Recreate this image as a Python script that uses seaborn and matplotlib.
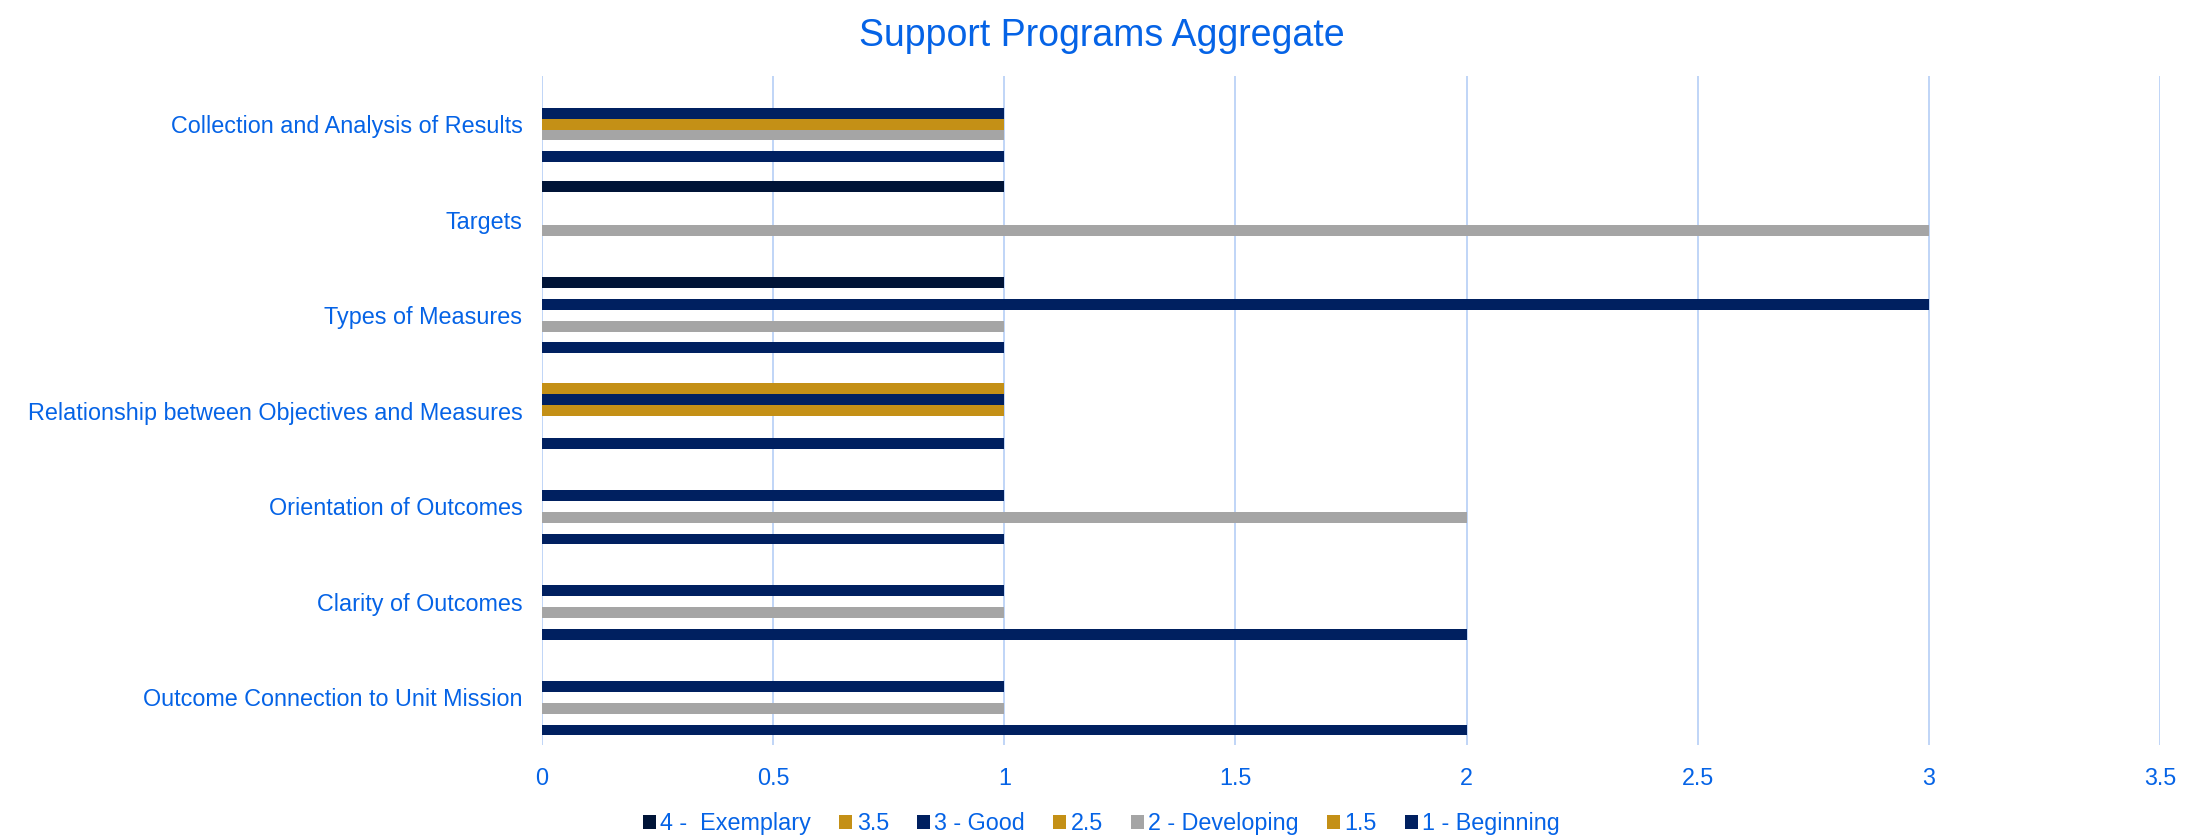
import seaborn as sns
import matplotlib.pyplot as plt
import pandas as pd

# categories as listed top to bottom
categories = ['Collection and Analysis of Results', 'Targets', 'Types of Measures',
              'Relationship between Objectives and Measures', 'Orientation of Outcomes',
              'Clarity of Outcomes', 'Outcome Connection to Unit Mission']
levels = ['4 -  Exemplary', '3.5', '3 - Good', '2.5', '2 - Developing', '1.5', '1 - Beginning']

# counts per level, in the same order as categories
exemplary = [0, 1, 1, 0, 0, 0, 0]
l35 = [0, 0, 0, 1, 0, 0, 0]
good = [1, 0, 3, 1, 1, 1, 1]
l25 = [1, 0, 0, 1, 0, 0, 0]
developing = [1, 3, 1, 0, 2, 1, 1]
l15 = [0, 0, 0, 0, 0, 0, 0]
beginning = [1, 0, 1, 1, 1, 2, 2]

colors = ['#001437', '#C49016', '#002060', '#C49016', '#A5A5A5', '#C49016', '#002060']
text_blue = '#0563E6'

series = [exemplary, l35, good, l25, developing, l15, beginning]
rows = []
for lev, vals in zip(levels, series):
    for cat, v in zip(categories, vals):
        rows.append({'category': cat, 'level': lev, 'value': v})
df = pd.DataFrame(rows)

sns.set_style('white')
plt.rcParams['font.family'] = ['Liberation Sans', 'DejaVu Sans']

fig = plt.figure(figsize=(22.03, 8.39), dpi=100)
ax = fig.add_axes([0.246, 0.112, 0.7345, 0.797])

sns.barplot(data=df, x='value', y='category', hue='level', order=categories,
            hue_order=levels, palette=colors, orient='h', width=0.8,
            linewidth=0, saturation=1, ax=ax, legend=True)

ax.set_xlim(0, 3.5)
ax.set_xticks([0, 0.5, 1, 1.5, 2, 2.5, 3, 3.5])
ax.set_xticklabels(['0', '0.5', '1', '1.5', '2', '2.5', '3', '3.5'])
ax.grid(axis='x', color='#C0D5F7', linewidth=1.4)
ax.set_axisbelow(True)
for s in ax.spines.values():
    s.set_visible(False)
ax.tick_params(axis='both', length=0, labelsize=16.8, labelcolor=text_blue)
ax.tick_params(axis='y', pad=14)
ax.tick_params(axis='x', pad=16)
ax.set_xlabel('')
ax.set_ylabel('')

fig.suptitle('Support Programs Aggregate', fontsize=27, color=text_blue, y=0.978)

handles, labels = ax.get_legend_handles_labels()
ax.get_legend().remove()
fig.legend(handles, labels, loc='center', bbox_to_anchor=(0.5, 0.018), ncol=7,
           frameon=False, fontsize=16.8, labelcolor=text_blue, handlelength=0.55,
           handleheight=0.55, handletextpad=0.2, columnspacing=1.2)

fig.savefig('out.png', dpi=100)
